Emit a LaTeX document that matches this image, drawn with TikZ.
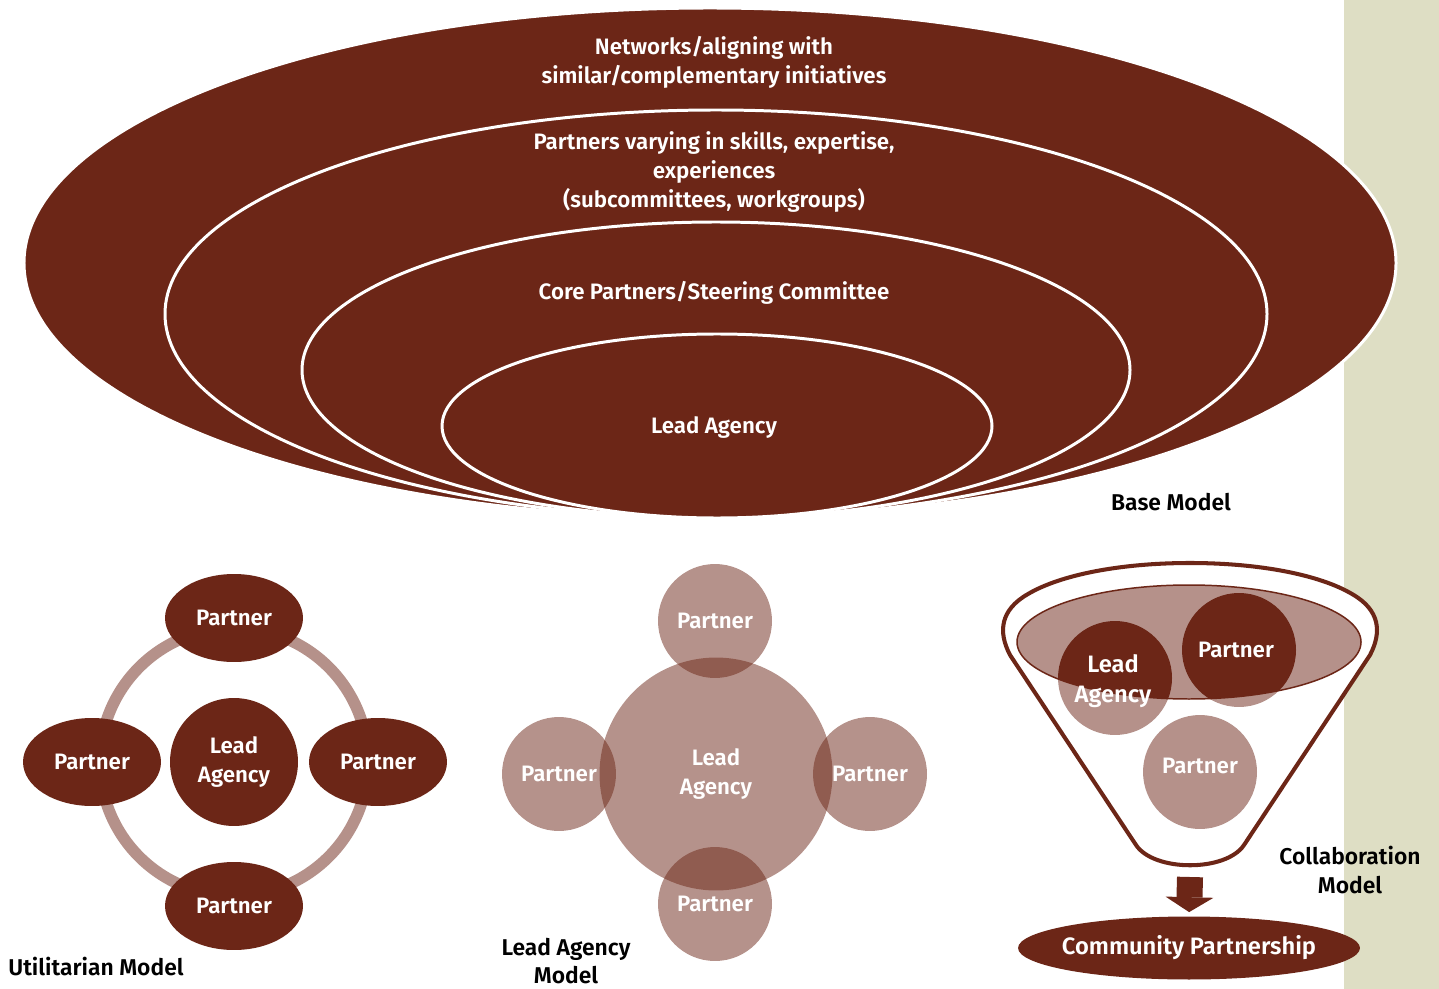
\documentclass[tikz,border=0pt]{standalone}
\usepackage{fontspec}
\setmainfont{Fira Sans SemiBold}
\usetikzlibrary{shapes.geometric, arrows.meta}
\definecolor{rust}{RGB}{108,38,23}
\definecolor{rustlight}{RGB}{181,145,138}
\definecolor{sage}{RGB}{222,222,196}

\tikzset{
  layer/.style={fill=rust, draw=white, line width=1.7pt},
  intext/.style={text=white, align=center, font=\fontsize{12.7}{16.5}\selectfont},
  caption/.style={text=black, align=center, font=\fontsize{13}{16}\selectfont},
  oval/.style={ellipse, fill=rust, minimum width=2.76cm, minimum height=1.76cm, inner sep=0pt, intext},
  hub/.style={circle, fill=rust, minimum size=2.56cm, inner sep=0pt, intext},
  bubble/.style={circle, fill=rust, fill opacity=0.5, text opacity=1, minimum size=2.28cm, inner sep=0pt, intext},
  disc/.style={circle, fill=rustlight, minimum size=2.28cm, inner sep=0pt},
}

\begin{document}
\begin{tikzpicture}[x=0.02cm, y=-0.02cm]
  \useasboundingbox (0,0) rectangle (1439,989);
  \fill[sage] (1344,0) rectangle (1439,989);

  % base model
  \filldraw[layer] (710,263) ellipse [x radius=686, y radius=255];
  \filldraw[layer] (716,314) ellipse [x radius=551, y radius=204];
  \filldraw[layer] (716,370) ellipse [x radius=414, y radius=148];
  \filldraw[layer] (717,426) ellipse [x radius=275, y radius=92];
  \node[intext] (networks) at (714,62) {Networks/aligning with\\similar/complementary initiatives};
  \node[intext] (skills) at (714,172) {Partners varying in skills, expertise,\\experiences\\(subcommittees, workgroups)};
  \node[intext] (core) at (714,293) {Core Partners/Steering Committee};
  \node[intext] (lead) at (714,428) {Lead Agency};
  \node[caption] (basecap) at (1171,502) {Base Model};

  % utilitarian model
  \draw[rustlight, line width=6.6pt] (234,762) circle [radius=134];
  \node[hub] (ulead) at (234,762) {Lead\\Agency};
  \node[oval] (utop) at (234,618) {Partner};
  \node[oval] (uleft) at (92,762) {Partner};
  \node[oval] (uright) at (378,762) {Partner};
  \node[oval] (ubottom) at (234,906) {Partner};
  \node[caption, anchor=west, inner xsep=0pt] (ucap) at (8,967) {Utilitarian Model};

  % lead agency model
  \node[bubble, minimum size=4.66cm] (lhub) at (716,774) {Lead\\Agency};
  \node[bubble] (ltop) at (715,621) {Partner};
  \node[bubble] (lleft) at (559,774) {Partner};
  \node[bubble] (lright) at (870,774) {Partner};
  \node[bubble] (lbottom) at (715,904) {Partner};
  \node[caption] (lcap) at (566,961) {Lead Agency\\Model};

  % collaboration model
  \filldraw[fill=white, draw=rust, line width=2.3pt] (1190,563)
    .. controls (1260,563) and (1320,575) .. (1352,594)
    .. controls (1380,610) and (1382,632) .. (1370,655) -- (1244,845)
    .. controls (1226,872) and (1154,872) .. (1136,845) -- (1010,655)
    .. controls (998,632) and (1000,610) .. (1028,594)
    .. controls (1060,575) and (1120,563) .. cycle;
  \node[disc] (clead) at (1115,678) {};
  \node[disc] (cpart) at (1239,650) {};
  \node[disc] (cpart2) at (1200,772) {};
  \fill[rustlight] (1189,642) ellipse [x radius=172, y radius=57];
  \begin{scope}
    \clip (1189,642) ellipse [x radius=172, y radius=57];
    \fill[rust] (clead.center) circle [radius=57];
    \fill[rust] (cpart.center) circle [radius=57];
  \end{scope}
  \draw[rust, line width=0.85pt] (1189,642) ellipse [x radius=172, y radius=57];
  \node[intext, font=\fontsize{13.5}{17}\selectfont] at (1113,681) {Lead\\Agency};
  \node[intext] at (1236,650) {Partner};
  \node[intext] at (1200,766) {Partner};
  \coordinate (fbase) at (1190,877);
  \node[ellipse, fill=rust, minimum width=6.84cm, minimum height=1.26cm, inner sep=0pt,
        inner xsep=-4pt, intext, font=\fontsize{13.5}{16}\selectfont] (cp) at (1189,948) {Community Partnership};
  \draw[rust, line width=14.8pt, -{Triangle[length=8.5pt, width=27.3pt, line width=0pt]},
        shorten >=2.3pt] (fbase) -- (cp.north);
  \node[caption] (ccap) at (1350,870) {Collaboration\\Model};
\end{tikzpicture}
\end{document}
